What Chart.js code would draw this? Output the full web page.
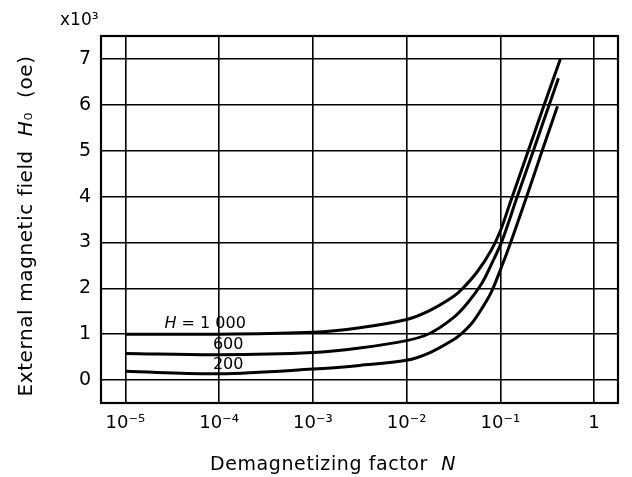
<!DOCTYPE html>
<html><head><meta charset="utf-8">
<script src="https://cdn.jsdelivr.net/npm/chart.js@4/dist/chart.umd.min.js"></script>
<style>html,body{margin:0;padding:0;background:#fff}</style>
</head><body>
<canvas id="c" width="632" height="477"></canvas>
<script>
// ---- data ----
const xTickValues = [1e-5, 1e-4, 1e-3, 1e-2, 1e-1, 1];
const xTickLabels = ['10\u207B\u2075', '10\u207B\u2074', '10\u207B\u00B3', '10\u207B\u00B2', '10\u207B\u00B9', '1'];
const yTickValues = [0, 1, 2, 3, 4, 5, 6, 7];
const yTickLabels = ['0', '1', '2', '3', '4', '5', '6', '7'];

const nH1000 = [1e-5, 1e-4, 1e-3, 0.00316, 0.01, 0.0178, 0.0316, 0.0398, 0.0562, 0.0794, 0.1, 0.126, 0.186, 0.288, 0.437];
const vH1000 = [1.0, 1.0, 1.04, 1.14, 1.32, 1.52, 1.82, 2.0, 2.35, 2.82, 3.25, 3.84, 4.83, 5.95, 7.0];

const nH600 = [1e-5, 1e-4, 1e-3, 0.00316, 0.01, 0.0178, 0.0316, 0.0447, 0.0631, 0.0794, 0.105, 0.151, 0.219, 0.331, 0.417];
const vH600 = [0.58, 0.55, 0.6, 0.7, 0.86, 1.02, 1.36, 1.68, 2.1, 2.5, 3.05, 3.99, 4.93, 5.99, 6.58];

const nH200 = [1e-5, 1e-4, 1e-3, 0.00316, 0.01, 0.0178, 0.0316, 0.038, 0.0501, 0.0631, 0.0794, 0.1, 0.129, 0.191, 0.269, 0.407];
const vH200 = [0.19, 0.14, 0.24, 0.32, 0.43, 0.6, 0.88, 1.0, 1.25, 1.55, 1.9, 2.4, 3.0, 4.0, 4.9, 5.97];

const seriesNames = ['H = 1 000', '600', '200'];
const xTitleRuns = [['Demagnetizing factor  ', false], ['N', true]];
const yTitleRuns = [['External magnetic field  ', false], ['H', true], ['\u2080  (oe)', false]];
const yUnit = 'x10\u00B3';

const toPts = (xs, ys) => xs.map((x, i) => ({ x: x, y: ys[i] }));

const FONT = "'DejaVu Sans', 'Liberation Sans', sans-serif";

function drawRuns(ctx, runs, size, cx, cy) {
  const fonts = runs.map(r => (r[1] ? 'italic ' : '') + size + 'px ' + FONT);
  const widths = runs.map((r, i) => { ctx.font = fonts[i]; return ctx.measureText(r[0]).width; });
  const total = widths.reduce((a, b) => a + b, 0);
  let x = cx - total / 2;
  ctx.textAlign = 'left';
  ctx.textBaseline = 'middle';
  runs.forEach((r, i) => { ctx.font = fonts[i]; ctx.fillText(r[0], x, cy); x += widths[i]; });
}

const framePlugin = {
  id: 'frame',
  afterDraw(chart) {
    const { ctx, chartArea: a, scales } = chart;
    ctx.save();
    ctx.strokeStyle = '#000';
    ctx.lineWidth = 2.2;
    ctx.strokeRect(a.left, a.top, a.right - a.left, a.bottom - a.top);
    ctx.fillStyle = '#000';
    // unit marker
    ctx.font = '17px ' + FONT;
    ctx.textAlign = 'left';
    ctx.textBaseline = 'alphabetic';
    ctx.fillText(yUnit, 60, 25);
    // axis titles
    if ('letterSpacing' in ctx) ctx.letterSpacing = '0.6px';
    drawRuns(ctx, xTitleRuns, 19, 333, 465);
    ctx.save();
    ctx.translate(27, 226);
    ctx.rotate(-Math.PI / 2);
    drawRuns(ctx, yTitleRuns, 20, 0, 0);
    ctx.restore();
    if ('letterSpacing' in ctx) ctx.letterSpacing = '0px';
    // curve labels
    const x0 = scales.x.getPixelForValue(7.1e-5), y0 = scales.y.getPixelForValue(1.22);
    const first = seriesNames[0];
    drawRuns(ctx, [[first.charAt(0), true], [first.slice(1), false]], 16, x0, y0);
    ctx.font = '16px ' + FONT;
    ctx.textAlign = 'center';
    ctx.textBaseline = 'middle';
    ctx.fillText(seriesNames[1], scales.x.getPixelForValue(1.25e-4), scales.y.getPixelForValue(0.76));
    ctx.fillText(seriesNames[2], scales.x.getPixelForValue(1.25e-4), scales.y.getPixelForValue(0.34));
    ctx.restore();
  }
};

const lineDs = (label, pts) => ({
  label: label,
  data: pts,
  borderColor: '#000',
  backgroundColor: '#000',
  borderWidth: 3,
  pointRadius: 0,
  fill: false,
  tension: 0.35
});

new Chart(document.getElementById('c'), {
  type: 'line',
  data: {
    datasets: [
      lineDs(seriesNames[0], toPts(nH1000, vH1000)),
      lineDs(seriesNames[1], toPts(nH600, vH600)),
      lineDs(seriesNames[2], toPts(nH200, vH200))
    ]
  },
  options: {
    responsive: false,
    animation: false,
    devicePixelRatio: 1,
    layout: { padding: { left: 0, right: 14, top: 36, bottom: 0 } },
    plugins: { legend: { display: false }, tooltip: { enabled: false } },
    scales: {
      x: {
        type: 'logarithmic',
        min: 5.5e-6,
        max: 1.8,
        afterBuildTicks(s) { s.ticks = xTickValues.map(v => ({ value: v })); },
        afterFit(s) { s.height = 74; },
        ticks: {
          color: '#000',
          autoSkip: false,
          maxRotation: 0,
          padding: 10,
          font: { family: FONT, size: 18 },
          callback: (v) => { const i = xTickValues.indexOf(v); return i >= 0 ? xTickLabels[i] : ''; }
        },
        grid: { color: '#000', lineWidth: 1.6, drawTicks: false },
        border: { display: false },
        title: { display: false }
      },
      y: {
        type: 'linear',
        min: -0.5,
        max: 7.5,
        afterBuildTicks(s) { s.ticks = yTickValues.map(v => ({ value: v })); },
        afterFit(s) { s.width = 101; },
        ticks: {
          color: '#000',
          padding: 10,
          font: { family: FONT, size: 19 },
          callback: (v) => { const i = yTickValues.indexOf(v); return i >= 0 ? yTickLabels[i] : ''; }
        },
        grid: { color: '#000', lineWidth: 1.6, drawTicks: false },
        border: { display: false },
        title: { display: false }
      }
    }
  },
  plugins: [framePlugin]
});
</script>
</body></html>
